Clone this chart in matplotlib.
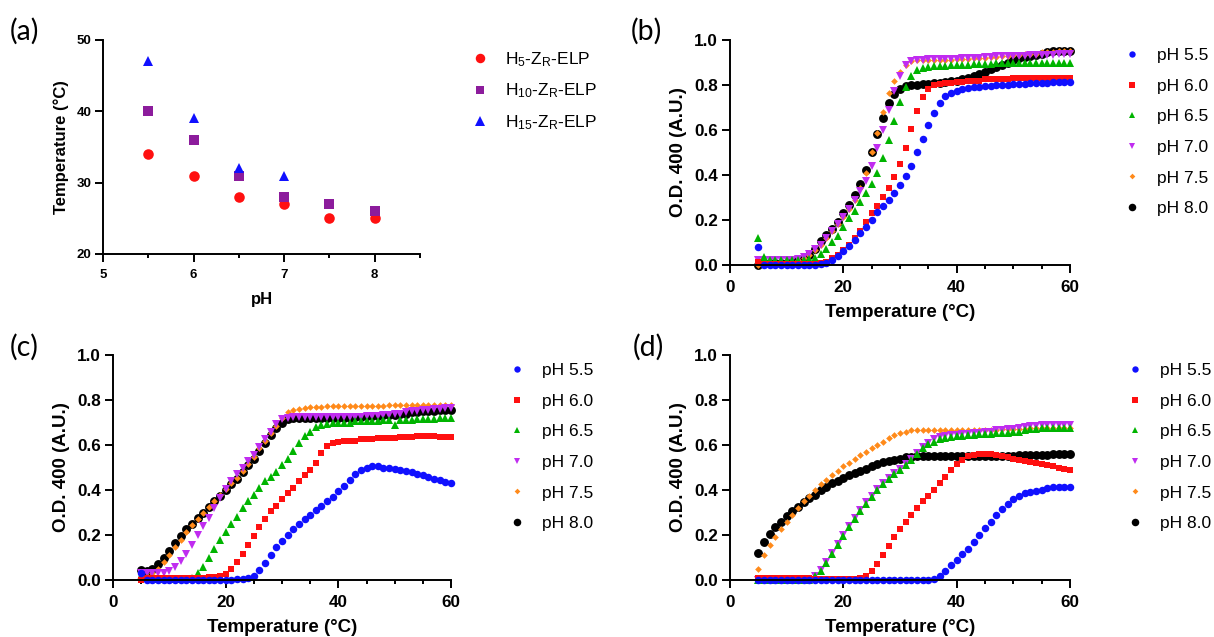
import matplotlib
matplotlib.use("Agg")
import matplotlib.pyplot as plt
from matplotlib.ticker import MultipleLocator

plt.rcParams['font.family'] = ['Liberation Sans', 'DejaVu Sans']
plt.rcParams['mathtext.default'] = 'regular'

# (a) transition temperature vs pH
ph = [5.5, 6.0, 6.5, 7.0, 7.5, 8.0]
tt_h5 = [34, 31, 28, 27, 25, 25]
tt_h10 = [40, 36, 31, 28, 27, 26]
ph_h15 = [5.5, 6.0, 6.5, 7.0]
tt_h15 = [47, 39, 32, 31]

# temperature grid of the turbidity scans (deg C)
temps = [5, 6, 7, 8, 9, 10, 11, 12, 13, 14,
         15, 16, 17, 18, 19, 20, 21, 22, 23, 24,
         25, 26, 27, 28, 29, 30, 31, 32, 33, 34,
         35, 36, 37, 38, 39, 40, 41, 42, 43, 44,
         45, 46, 47, 48, 49, 50, 51, 52, 53, 54,
         55, 56, 57, 58, 59, 60]

# (b) H5-ZR-ELP
b_55 = [0.08, 0.0, 0.0, 0.0, 0.0, 0.0, 0.0, 0.0, 0.0, 0.0,
        0.0, 0.005, 0.01, 0.02, 0.04, 0.06, 0.085, 0.11, 0.14, 0.17,
        0.20, 0.235, 0.26, 0.29, 0.32, 0.355, 0.395, 0.44, 0.50, 0.56,
        0.62, 0.675, 0.72, 0.75, 0.765, 0.775, 0.78, 0.785, 0.79, 0.79,
        0.795, 0.795, 0.80, 0.80, 0.80, 0.805, 0.805, 0.805, 0.81, 0.81,
        0.81, 0.81, 0.815, 0.815, 0.815, 0.815]
b_60 = [0.015, 0.005, 0.005, 0.005, 0.005, 0.005, 0.005, 0.005, 0.005, 0.005,
        0.005, 0.01, 0.015, 0.03, 0.045, 0.065, 0.09, 0.12, 0.15, 0.19,
        0.23, 0.26, 0.30, 0.34, 0.39, 0.45, 0.52, 0.605, 0.685, 0.745,
        0.78, 0.80, 0.805, 0.81, 0.81, 0.815, 0.815, 0.82, 0.82, 0.82,
        0.825, 0.825, 0.825, 0.825, 0.825, 0.83, 0.83, 0.83, 0.83, 0.83,
        0.83, 0.83, 0.83, 0.83, 0.83, 0.83]
b_65 = [0.12, 0.035, 0.02, 0.02, 0.02, 0.02, 0.02, 0.02, 0.02, 0.025,
        0.03, 0.05, 0.07, 0.10, 0.13, 0.17, 0.21, 0.24, 0.28, 0.32,
        0.36, 0.41, 0.475, 0.555, 0.64, 0.725, 0.79, 0.84, 0.865, 0.875,
        0.88, 0.885, 0.885, 0.885, 0.89, 0.89, 0.89, 0.89, 0.895, 0.895,
        0.895, 0.895, 0.90, 0.90, 0.90, 0.90, 0.90, 0.90, 0.90, 0.90,
        0.90, 0.90, 0.90, 0.90, 0.90, 0.90]
b_70 = [0.02, 0.02, 0.02, 0.02, 0.02, 0.02, 0.02, 0.025, 0.035, 0.05,
        0.07, 0.09, 0.12, 0.15, 0.18, 0.215, 0.25, 0.29, 0.33, 0.375,
        0.44, 0.52, 0.60, 0.69, 0.775, 0.84, 0.89, 0.905, 0.91, 0.91,
        0.915, 0.915, 0.915, 0.915, 0.915, 0.915, 0.92, 0.92, 0.92, 0.92,
        0.925, 0.925, 0.93, 0.93, 0.93, 0.93, 0.93, 0.93, 0.935, 0.935,
        0.935, 0.935, 0.935, 0.94, 0.94, 0.94]
b_75 = [0.0, 0.01, 0.01, 0.01, 0.01, 0.01, 0.015, 0.02, 0.03, 0.045,
        0.065, 0.09, 0.12, 0.15, 0.18, 0.215, 0.25, 0.29, 0.34, 0.41,
        0.50, 0.585, 0.68, 0.765, 0.82, 0.86, 0.89, 0.905, 0.91, 0.91,
        0.91, 0.91, 0.91, 0.91, 0.91, 0.915, 0.915, 0.915, 0.92, 0.92,
        0.92, 0.925, 0.925, 0.93, 0.93, 0.935, 0.935, 0.94, 0.94, 0.94,
        0.945, 0.945, 0.945, 0.95, 0.95, 0.95]
b_80 = [0.0, 0.01, 0.01, 0.01, 0.01, 0.01, 0.015, 0.02, 0.025, 0.045,
        0.07, 0.105, 0.135, 0.16, 0.19, 0.23, 0.265, 0.31, 0.36, 0.42,
        0.50, 0.58, 0.655, 0.72, 0.76, 0.78, 0.795, 0.80, 0.80, 0.805,
        0.805, 0.81, 0.81, 0.815, 0.82, 0.82, 0.825, 0.83, 0.84, 0.85,
        0.86, 0.87, 0.88, 0.89, 0.90, 0.91, 0.92, 0.925, 0.93, 0.935,
        0.94, 0.945, 0.95, 0.95, 0.95, 0.95]

# (c) H10-ZR-ELP
c_55 = [0.03, 0.0, 0.0, 0.0, 0.0, 0.0, 0.0, 0.0, 0.0, 0.0,
        0.0, 0.0, 0.0, 0.0, 0.0, 0.0, 0.0, 0.003, 0.005, 0.01,
        0.02, 0.045, 0.075, 0.11, 0.145, 0.175, 0.20, 0.225, 0.25, 0.27,
        0.29, 0.31, 0.33, 0.35, 0.37, 0.395, 0.42, 0.445, 0.47, 0.49,
        0.50, 0.505, 0.505, 0.50, 0.50, 0.495, 0.49, 0.485, 0.48, 0.47,
        0.465, 0.46, 0.45, 0.445, 0.435, 0.43]
c_60 = [0.0, 0.01, 0.01, 0.01, 0.01, 0.01, 0.01, 0.01, 0.01, 0.01,
        0.01, 0.01, 0.015, 0.015, 0.02, 0.025, 0.05, 0.08, 0.115, 0.155,
        0.195, 0.235, 0.27, 0.305, 0.33, 0.36, 0.385, 0.41, 0.44, 0.465,
        0.49, 0.52, 0.565, 0.595, 0.61, 0.615, 0.62, 0.62, 0.62, 0.625,
        0.625, 0.625, 0.63, 0.63, 0.63, 0.63, 0.635, 0.635, 0.635, 0.64,
        0.64, 0.64, 0.64, 0.635, 0.635, 0.635]
c_65 = [0.02, 0.01, 0.005, 0.005, 0.005, 0.005, 0.005, 0.005, 0.005, 0.01,
        0.03, 0.06, 0.10, 0.14, 0.18, 0.215, 0.25, 0.28, 0.32, 0.35,
        0.38, 0.41, 0.44, 0.46, 0.48, 0.51, 0.54, 0.575, 0.61, 0.64,
        0.66, 0.68, 0.69, 0.695, 0.70, 0.70, 0.70, 0.70, 0.705, 0.705,
        0.705, 0.705, 0.705, 0.71, 0.71, 0.69, 0.71, 0.71, 0.71, 0.715,
        0.715, 0.715, 0.715, 0.72, 0.72, 0.72]
c_70 = [0.03, 0.03, 0.03, 0.03, 0.03, 0.04, 0.06, 0.085, 0.115, 0.155,
        0.20, 0.24, 0.275, 0.32, 0.365, 0.405, 0.44, 0.47, 0.50, 0.53,
        0.555, 0.59, 0.625, 0.66, 0.695, 0.715, 0.72, 0.725, 0.725, 0.725,
        0.725, 0.725, 0.725, 0.725, 0.725, 0.725, 0.725, 0.725, 0.725, 0.725,
        0.73, 0.73, 0.73, 0.735, 0.735, 0.74, 0.74, 0.745, 0.75, 0.75,
        0.755, 0.755, 0.76, 0.76, 0.765, 0.765]
c_75 = [0.02, 0.02, 0.03, 0.05, 0.08, 0.11, 0.145, 0.18, 0.215, 0.245,
        0.27, 0.30, 0.325, 0.35, 0.38, 0.405, 0.43, 0.455, 0.485, 0.515,
        0.545, 0.585, 0.62, 0.655, 0.685, 0.72, 0.745, 0.755, 0.76, 0.765,
        0.77, 0.77, 0.77, 0.775, 0.775, 0.775, 0.775, 0.775, 0.775, 0.775,
        0.775, 0.775, 0.775, 0.775, 0.78, 0.78, 0.78, 0.78, 0.78, 0.78,
        0.78, 0.78, 0.78, 0.78, 0.78, 0.78]
c_80 = [0.045, 0.04, 0.05, 0.07, 0.10, 0.13, 0.165, 0.195, 0.225, 0.25,
        0.275, 0.30, 0.325, 0.35, 0.375, 0.40, 0.425, 0.45, 0.48, 0.51,
        0.54, 0.575, 0.61, 0.645, 0.675, 0.70, 0.715, 0.72, 0.72, 0.72,
        0.72, 0.72, 0.72, 0.72, 0.72, 0.72, 0.72, 0.72, 0.725, 0.725,
        0.73, 0.73, 0.73, 0.735, 0.735, 0.735, 0.74, 0.74, 0.745, 0.745,
        0.75, 0.75, 0.75, 0.755, 0.755, 0.755]

# (d) H15-ZR-ELP
d_55 = [0.0, 0.0, 0.0, 0.0, 0.0, 0.0, 0.0, 0.0, 0.0, 0.0,
        0.0, 0.0, 0.0, 0.0, 0.0, 0.0, 0.0, 0.0, 0.0, 0.0,
        0.0, 0.0, 0.0, 0.0, 0.0, 0.0, 0.0, 0.0, 0.0, 0.0,
        0.0, 0.005, 0.02, 0.04, 0.065, 0.09, 0.115, 0.14, 0.17, 0.20,
        0.23, 0.26, 0.29, 0.315, 0.34, 0.36, 0.375, 0.385, 0.39, 0.395,
        0.40, 0.41, 0.415, 0.415, 0.415, 0.415]
d_60 = [0.01, 0.01, 0.01, 0.01, 0.01, 0.01, 0.01, 0.01, 0.01, 0.01,
        0.005, 0.005, 0.005, 0.005, 0.005, 0.005, 0.005, 0.005, 0.01, 0.02,
        0.04, 0.07, 0.11, 0.15, 0.19, 0.225, 0.26, 0.29, 0.32, 0.35,
        0.375, 0.40, 0.43, 0.46, 0.49, 0.515, 0.535, 0.55, 0.555, 0.56,
        0.56, 0.56, 0.555, 0.55, 0.545, 0.54, 0.535, 0.53, 0.525, 0.52,
        0.515, 0.51, 0.505, 0.50, 0.495, 0.49]
d_65 = [0.0, 0.0, 0.0, 0.0, 0.0, 0.0, 0.0, 0.0, 0.0, 0.0,
        0.02, 0.04, 0.075, 0.115, 0.155, 0.195, 0.235, 0.27, 0.305, 0.34,
        0.37, 0.40, 0.425, 0.45, 0.47, 0.49, 0.51, 0.535, 0.56, 0.585,
        0.605, 0.615, 0.625, 0.63, 0.635, 0.64, 0.64, 0.645, 0.645, 0.65,
        0.65, 0.65, 0.655, 0.655, 0.655, 0.66, 0.66, 0.665, 0.67, 0.67,
        0.675, 0.675, 0.675, 0.675, 0.675, 0.675]
d_70 = [0.0, 0.0, 0.0, 0.0, 0.0, 0.0, 0.0, 0.0, 0.0, 0.0,
        0.02, 0.045, 0.08, 0.12, 0.16, 0.20, 0.24, 0.275, 0.31, 0.345,
        0.375, 0.405, 0.43, 0.455, 0.475, 0.495, 0.515, 0.54, 0.565, 0.59,
        0.61, 0.625, 0.635, 0.64, 0.645, 0.645, 0.65, 0.65, 0.655, 0.655,
        0.66, 0.66, 0.665, 0.665, 0.67, 0.67, 0.675, 0.68, 0.685, 0.685,
        0.69, 0.69, 0.69, 0.69, 0.69, 0.69]
d_75 = [0.05, 0.11, 0.155, 0.19, 0.225, 0.26, 0.29, 0.32, 0.35, 0.375,
        0.40, 0.425, 0.445, 0.465, 0.485, 0.505, 0.52, 0.54, 0.555, 0.57,
        0.585, 0.60, 0.615, 0.63, 0.645, 0.655, 0.66, 0.665, 0.665, 0.665,
        0.665, 0.665, 0.665, 0.665, 0.665, 0.665, 0.665, 0.665, 0.665, 0.665,
        0.665, 0.665, 0.665, 0.67, 0.67, 0.67, 0.67, 0.67, 0.675, 0.675,
        0.675, 0.675, 0.675, 0.675, 0.675, 0.675]
d_80 = [0.12, 0.17, 0.205, 0.235, 0.26, 0.285, 0.305, 0.325, 0.345, 0.365,
        0.38, 0.40, 0.415, 0.43, 0.44, 0.455, 0.465, 0.475, 0.485, 0.495,
        0.505, 0.515, 0.525, 0.53, 0.535, 0.54, 0.545, 0.545, 0.55, 0.55,
        0.55, 0.55, 0.55, 0.55, 0.55, 0.55, 0.55, 0.55, 0.55, 0.55,
        0.55, 0.55, 0.55, 0.55, 0.55, 0.55, 0.555, 0.555, 0.555, 0.555,
        0.555, 0.555, 0.56, 0.56, 0.56, 0.56]

ph_labels = ['pH 5.5', 'pH 6.0', 'pH 6.5', 'pH 7.0', 'pH 7.5', 'pH 8.0']
# marker, colour, size for each pH series
styles = [('o', '#1010ff', 5.4), ('s', '#ff1010', 5.0), ('^', '#00b400', 5.8),
          ('v', '#c02cf0', 5.8), ('D', '#ff8a1a', 3.4), ('o', '#000000', 6.4)]

fig = plt.figure(figsize=(12.14, 6.37), dpi=100)
W, H = 1214.0, 637.0


def add_axes(x0, y0, x1, y1):
    # pixel box (left, top, right, bottom) -> figure fraction
    return fig.add_axes([x0 / W, 1 - y1 / H, (x1 - x0) / W, (y1 - y0) / H])


def style_axes(ax, tick_size):
    for s in ('top', 'right'):
        ax.spines[s].set_visible(False)
    for s in ('left', 'bottom'):
        ax.spines[s].set_linewidth(1.4)
    ax.tick_params(which='major', direction='out', length=5.5, width=1.4,
                   labelsize=tick_size)
    ax.tick_params(which='minor', direction='out', length=3.2, width=1.4)
    ax.tick_params(axis='x', which='major', pad=5)
    ax.tick_params(axis='y', which='major', pad=3)
    for lab in ax.get_xticklabels() + ax.get_yticklabels():
        lab.set_fontweight('bold')


def od_panel(ax, series, legend_x, legend_y):
    handles = [None] * 6
    for i in reversed(range(6)):
        m, c, ms = styles[i]
        h, = ax.plot(temps, series[i], ls='none', marker=m, ms=ms, color=c,
                     mec=c, mew=0, clip_on=False, label=ph_labels[i])
        handles[i] = h
    ax.set_xlim(0, 60)
    ax.set_ylim(0, 1.0)
    ax.xaxis.set_major_locator(MultipleLocator(20))
    ax.xaxis.set_minor_locator(MultipleLocator(5))
    ax.set_yticks([0.0, 0.2, 0.4, 0.6, 0.8, 1.0])
    ax.set_yticklabels(['0.0', '0.2', '0.4', '0.6', '0.8', '1.0'])
    style_axes(ax, 12.3)
    ax.set_xlabel('Temperature (°C)', fontsize=13.5, fontweight='bold', labelpad=7)
    ax.set_ylabel('O.D. 400 (A.U.)', fontsize=13.5, fontweight='bold', labelpad=5)
    fig.legend(handles=handles, loc='upper left',
               bbox_to_anchor=(legend_x / W, 1 - legend_y / H),
               frameon=False, fontsize=12.5, handlelength=1.0,
               handletextpad=0.98, labelspacing=0.89, borderpad=0,
               borderaxespad=0, markerscale=0.85)


# panel (a)
axa = add_axes(103, 40, 420, 254)
axa.plot(ph, tt_h5, ls='none', marker='o', ms=7.6, color='#ff1010', mew=0,
         clip_on=False, label='H$_5$-Z$_R$-ELP')
axa.plot(ph, tt_h10, ls='none', marker='s', ms=7.0, color='#8c1c9c', mew=0,
         clip_on=False, label='H$_{10}$-Z$_R$-ELP')
axa.plot(ph_h15, tt_h15, ls='none', marker='^', ms=7.6, color='#1010ff', mew=0,
         clip_on=False, label='H$_{15}$-Z$_R$-ELP')
axa.set_xlim(5, 8.5)
axa.set_ylim(20, 50)
axa.xaxis.set_major_locator(MultipleLocator(1))
axa.xaxis.set_minor_locator(MultipleLocator(0.5))
axa.yaxis.set_major_locator(MultipleLocator(10))
axa.set_xticks([5, 6, 7, 8])
style_axes(axa, 9.5)
axa.set_xlabel('pH', fontsize=12, fontweight='bold', labelpad=8.5)
axa.set_ylabel('Temperature (°C)', fontsize=12, fontweight='bold', labelpad=5)
fig.legend(handles=axa.get_lines(), loc='upper left',
           bbox_to_anchor=(471 / W, 1 - 50 / H), frameon=False, fontsize=12.5,
           handlelength=1.0, handletextpad=0.94, labelspacing=0.75,
           borderpad=0, borderaxespad=0, markerscale=0.9)

# panels (b), (c), (d)
axb = add_axes(730, 40, 1070, 265)
od_panel(axb, [b_55, b_60, b_65, b_70, b_75, b_80], 1123, 48)
axc = add_axes(113, 355, 451, 580)
od_panel(axc, [c_55, c_60, c_65, c_70, c_75, c_80], 508, 363)
axd = add_axes(730, 355, 1070, 580)
od_panel(axd, [d_55, d_60, d_65, d_70, d_75, d_80], 1126, 363)

for txt, x, y in [('(a)', 10, 31), ('(b)', 631, 31), ('(c)', 10, 347), ('(d)', 633, 347)]:
    fig.text(x / W, 1 - y / H, txt, fontsize=20.5, family='Lato',
             ha='left', va='center')

fig.savefig('out.png', dpi=100)
